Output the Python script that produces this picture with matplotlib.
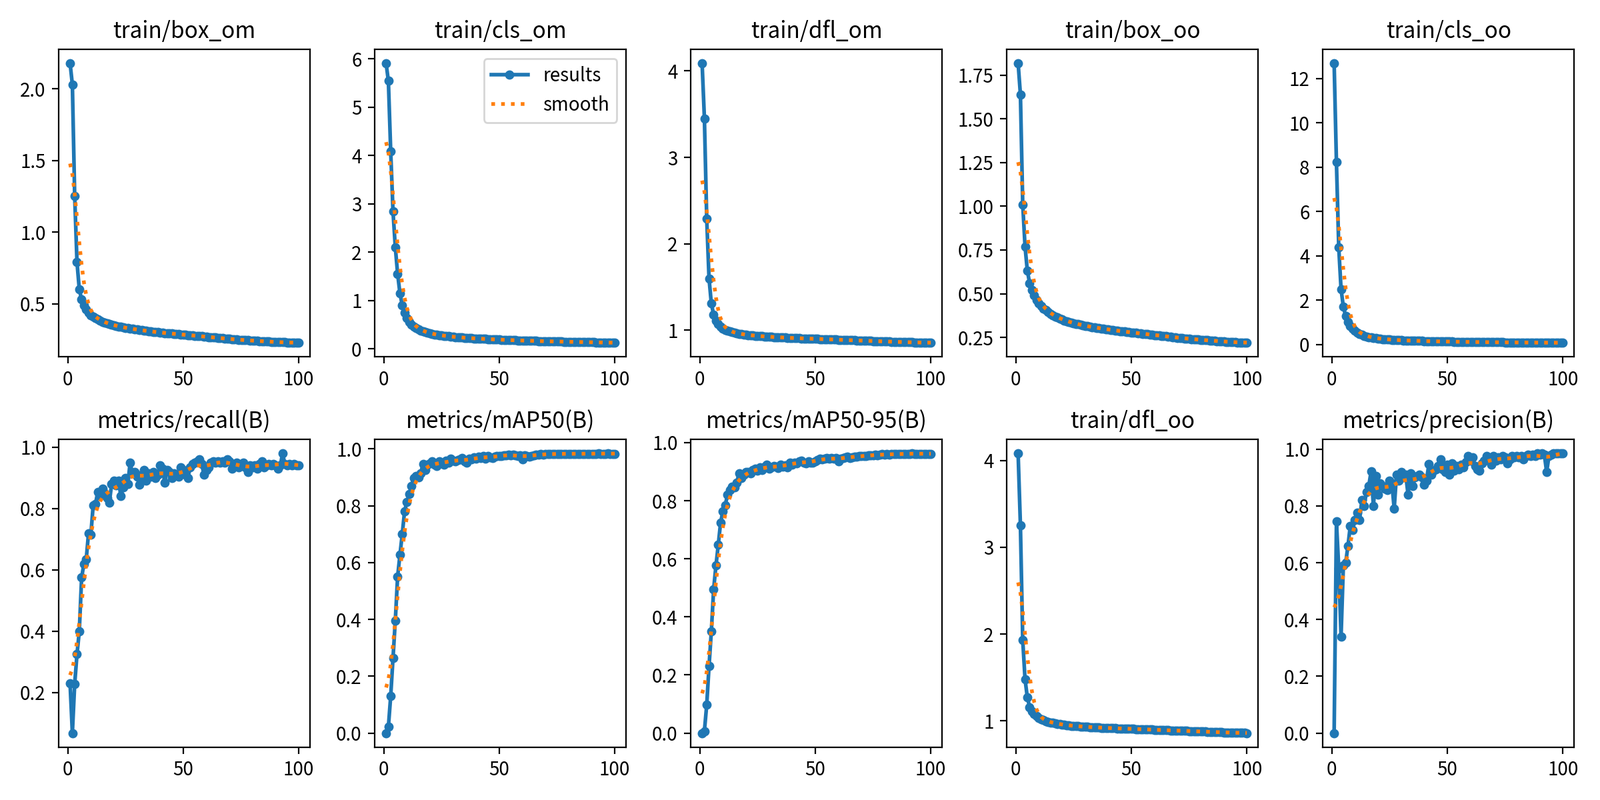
import numpy as np
import matplotlib
matplotlib.use('Agg')
from matplotlib import pyplot as plt
from matplotlib.ticker import MultipleLocator

plt.rcParams['font.family'] = ['Noto Sans CJK SC', 'DejaVu Sans']
plt.rcParams['axes.unicode_minus'] = False

# training log, one value per epoch (1..100)
epochs = np.arange(1, 101)

box_om = [2.18, 2.03, 1.25, 0.79, 0.60, 0.53, 0.49, 0.46, 0.44, 0.42,
          0.41, 0.40, 0.39, 0.38, 0.375, 0.37, 0.365, 0.36, 0.355, 0.35,
          0.345, 0.34, 0.338, 0.335, 0.332, 0.33, 0.327, 0.325, 0.322, 0.32,
          0.318, 0.315, 0.313, 0.311, 0.309, 0.307, 0.305, 0.303, 0.301, 0.30,
          0.298, 0.296, 0.295, 0.293, 0.292, 0.29, 0.289, 0.287, 0.286, 0.285,
          0.283, 0.282, 0.28, 0.279, 0.277, 0.276, 0.274, 0.273, 0.271, 0.27,
          0.268, 0.267, 0.265, 0.264, 0.262, 0.261, 0.259, 0.258, 0.256, 0.255,
          0.253, 0.252, 0.251, 0.249, 0.248, 0.247, 0.246, 0.245, 0.244, 0.243,
          0.242, 0.241, 0.240, 0.239, 0.238, 0.237, 0.236, 0.235, 0.234, 0.233,
          0.232, 0.232, 0.231, 0.231, 0.230, 0.230, 0.229, 0.229, 0.228, 0.228]

cls_om = [5.91, 5.54, 4.08, 2.84, 2.10, 1.55, 1.15, 0.90, 0.75, 0.64,
          0.56, 0.50, 0.46, 0.43, 0.40, 0.38, 0.36, 0.345, 0.33, 0.32,
          0.31, 0.30, 0.29, 0.285, 0.28, 0.27, 0.265, 0.26, 0.255, 0.25,
          0.245, 0.24, 0.237, 0.233, 0.23, 0.227, 0.224, 0.221, 0.218, 0.215,
          0.212, 0.21, 0.207, 0.205, 0.203, 0.20, 0.198, 0.196, 0.194, 0.192,
          0.19, 0.188, 0.186, 0.184, 0.182, 0.18, 0.178, 0.176, 0.175, 0.173,
          0.172, 0.17, 0.168, 0.167, 0.165, 0.164, 0.162, 0.161, 0.16, 0.158,
          0.157, 0.156, 0.155, 0.153, 0.152, 0.151, 0.15, 0.149, 0.148, 0.147,
          0.146, 0.145, 0.144, 0.143, 0.142, 0.141, 0.14, 0.139, 0.138, 0.137,
          0.136, 0.135, 0.134, 0.133, 0.132, 0.131, 0.13, 0.129, 0.128, 0.127]

dfl_om = [4.09, 3.45, 2.29, 1.60, 1.31, 1.18, 1.11, 1.07, 1.04, 1.02,
          1.005, 0.995, 0.985, 0.977, 0.97, 0.965, 0.96, 0.956, 0.952, 0.948,
          0.945, 0.942, 0.939, 0.937, 0.935, 0.933, 0.931, 0.929, 0.927, 0.925,
          0.923, 0.922, 0.92, 0.919, 0.918, 0.916, 0.915, 0.914, 0.912, 0.911,
          0.91, 0.909, 0.908, 0.907, 0.906, 0.905, 0.904, 0.903, 0.902, 0.901,
          0.90, 0.899, 0.898, 0.897, 0.896, 0.895, 0.894, 0.893, 0.892, 0.891,
          0.89, 0.889, 0.888, 0.887, 0.886, 0.885, 0.884, 0.883, 0.882, 0.881,
          0.88, 0.879, 0.878, 0.877, 0.876, 0.875, 0.874, 0.873, 0.872, 0.871,
          0.870, 0.869, 0.868, 0.867, 0.866, 0.866, 0.865, 0.864, 0.863, 0.862,
          0.862, 0.861, 0.86, 0.86, 0.859, 0.858, 0.858, 0.857, 0.856, 0.856]

box_oo = [1.82, 1.64, 1.01, 0.77, 0.63, 0.56, 0.52, 0.49, 0.465, 0.445,
          0.43, 0.415, 0.405, 0.395, 0.385, 0.377, 0.37, 0.363, 0.357, 0.352,
          0.347, 0.343, 0.339, 0.335, 0.331, 0.328, 0.325, 0.322, 0.319, 0.316,
          0.313, 0.311, 0.309, 0.307, 0.305, 0.303, 0.301, 0.299, 0.297, 0.295,
          0.293, 0.291, 0.29, 0.288, 0.286, 0.285, 0.283, 0.281, 0.28, 0.278,
          0.277, 0.275, 0.274, 0.272, 0.271, 0.269, 0.268, 0.266, 0.265, 0.263,
          0.262, 0.26, 0.259, 0.257, 0.256, 0.254, 0.253, 0.251, 0.25, 0.248,
          0.247, 0.246, 0.244, 0.243, 0.242, 0.24, 0.239, 0.238, 0.237, 0.236,
          0.235, 0.234, 0.233, 0.232, 0.231, 0.23, 0.229, 0.228, 0.227, 0.226,
          0.225, 0.224, 0.223, 0.223, 0.222, 0.221, 0.221, 0.22, 0.22, 0.219]

cls_oo = [12.69, 8.22, 4.38, 2.50, 1.70, 1.28, 1.02, 0.85, 0.72, 0.62,
          0.55, 0.49, 0.44, 0.40, 0.37, 0.34, 0.32, 0.30, 0.285, 0.27,
          0.26, 0.25, 0.24, 0.232, 0.225, 0.218, 0.212, 0.206, 0.20, 0.195,
          0.19, 0.186, 0.182, 0.178, 0.174, 0.17, 0.167, 0.164, 0.161, 0.158,
          0.155, 0.152, 0.15, 0.147, 0.145, 0.143, 0.141, 0.139, 0.137, 0.135,
          0.133, 0.131, 0.129, 0.127, 0.126, 0.124, 0.122, 0.121, 0.119, 0.118,
          0.116, 0.115, 0.114, 0.112, 0.111, 0.11, 0.109, 0.107, 0.106, 0.105,
          0.104, 0.103, 0.102, 0.101, 0.1, 0.099, 0.098, 0.097, 0.096, 0.095,
          0.094, 0.093, 0.093, 0.092, 0.091, 0.09, 0.089, 0.089, 0.088, 0.087,
          0.087, 0.086, 0.085, 0.085, 0.084, 0.084, 0.083, 0.083, 0.082, 0.082]

recall = [0.23, 0.068, 0.228, 0.325, 0.40, 0.575, 0.62, 0.635, 0.72, 0.715,
          0.81, 0.815, 0.855, 0.84, 0.865, 0.85, 0.835, 0.82, 0.88, 0.89,
          0.875, 0.89, 0.84, 0.87, 0.90, 0.88, 0.95, 0.915, 0.92, 0.905,
          0.878, 0.91, 0.925, 0.89, 0.915, 0.905, 0.92, 0.90, 0.91, 0.94,
          0.93, 0.885, 0.925, 0.92, 0.90, 0.915, 0.91, 0.905, 0.935, 0.925,
          0.91, 0.90, 0.935, 0.945, 0.95, 0.955, 0.96, 0.945, 0.91, 0.925,
          0.935, 0.95, 0.955, 0.95, 0.955, 0.95, 0.955, 0.95, 0.96, 0.955,
          0.93, 0.945, 0.95, 0.935, 0.94, 0.95, 0.935, 0.92, 0.94, 0.935,
          0.94, 0.93, 0.945, 0.955, 0.935, 0.94, 0.945, 0.94, 0.945, 0.94,
          0.93, 0.94, 0.98, 0.945, 0.94, 0.945, 0.94, 0.945, 0.94, 0.94]

map50 = [0.0, 0.022, 0.13, 0.264, 0.396, 0.551, 0.627, 0.70, 0.78, 0.814,
         0.84, 0.87, 0.897, 0.905, 0.90, 0.915, 0.947, 0.925, 0.945, 0.95,
         0.955, 0.945, 0.94, 0.955, 0.95, 0.945, 0.958, 0.952, 0.965, 0.958,
         0.955, 0.96, 0.962, 0.968, 0.955, 0.952, 0.965, 0.962, 0.97, 0.965,
         0.972, 0.968, 0.975, 0.965, 0.974, 0.97, 0.968, 0.972, 0.975, 0.974,
         0.976, 0.978, 0.978, 0.98, 0.977, 0.979, 0.978, 0.976, 0.977, 0.962,
         0.978, 0.975, 0.972, 0.976, 0.978, 0.979, 0.98, 0.981, 0.98, 0.981,
         0.982, 0.982, 0.981, 0.982, 0.982, 0.983, 0.982, 0.983, 0.982, 0.983,
         0.983, 0.982, 0.983, 0.983, 0.982, 0.983, 0.983, 0.983, 0.982, 0.983,
         0.983, 0.983, 0.984, 0.983, 0.983, 0.983, 0.984, 0.983, 0.983, 0.983]

map50_95 = [0.0, 0.007, 0.097, 0.23, 0.35, 0.496, 0.577, 0.648, 0.724, 0.764,
            0.785, 0.82, 0.838, 0.848, 0.845, 0.862, 0.895, 0.878, 0.89, 0.898,
            0.90, 0.895, 0.905, 0.91, 0.903, 0.915, 0.905, 0.918, 0.925, 0.91,
            0.915, 0.92, 0.918, 0.912, 0.925, 0.918, 0.922, 0.915, 0.932, 0.925,
            0.93, 0.928, 0.935, 0.938, 0.932, 0.928, 0.935, 0.93, 0.932, 0.935,
            0.94, 0.945, 0.942, 0.945, 0.948, 0.944, 0.946, 0.945, 0.948, 0.935,
            0.945, 0.948, 0.95, 0.952, 0.948, 0.95, 0.952, 0.951, 0.954, 0.953,
            0.955, 0.954, 0.956, 0.956, 0.957, 0.958, 0.957, 0.959, 0.96, 0.959,
            0.96, 0.959, 0.96, 0.961, 0.96, 0.961, 0.96, 0.961, 0.962, 0.961,
            0.962, 0.963, 0.962, 0.961, 0.962, 0.962, 0.961, 0.962, 0.962, 0.962]

dfl_oo = [4.08, 3.25, 1.93, 1.48, 1.27, 1.16, 1.11, 1.08, 1.055, 1.035,
          1.02, 1.008, 0.998, 0.99, 0.983, 0.977, 0.972, 0.967, 0.963, 0.959,
          0.955, 0.952, 0.949, 0.946, 0.943, 0.941, 0.939, 0.937, 0.935, 0.933,
          0.931, 0.93, 0.928, 0.927, 0.925, 0.924, 0.923, 0.921, 0.92, 0.919,
          0.918, 0.917, 0.916, 0.915, 0.914, 0.913, 0.912, 0.911, 0.91, 0.909,
          0.908, 0.907, 0.906, 0.905, 0.904, 0.903, 0.902, 0.901, 0.90, 0.899,
          0.898, 0.897, 0.896, 0.895, 0.894, 0.893, 0.892, 0.891, 0.89, 0.889,
          0.888, 0.887, 0.886, 0.885, 0.884, 0.883, 0.882, 0.881, 0.88, 0.879,
          0.878, 0.877, 0.876, 0.875, 0.874, 0.873, 0.872, 0.871, 0.87, 0.869,
          0.868, 0.867, 0.866, 0.865, 0.865, 0.864, 0.863, 0.862, 0.862, 0.861]

precision = [0.0, 0.745, 0.58, 0.34, 0.59, 0.60, 0.66, 0.73, 0.715, 0.75,
             0.777, 0.75, 0.82, 0.80, 0.85, 0.87, 0.922, 0.80, 0.905, 0.84,
             0.88, 0.87, 0.86, 0.855, 0.89, 0.88, 0.79, 0.91, 0.89, 0.92,
             0.90, 0.91, 0.84, 0.915, 0.87, 0.90, 0.905, 0.91, 0.90, 0.875,
             0.89, 0.947, 0.91, 0.925, 0.93, 0.94, 0.965, 0.93, 0.92, 0.945,
             0.91, 0.95, 0.925, 0.94, 0.93, 0.945, 0.935, 0.955, 0.975, 0.96,
             0.97, 0.94, 0.93, 0.925, 0.95, 0.96, 0.975, 0.96, 0.945, 0.975,
             0.96, 0.97, 0.965, 0.975, 0.97, 0.95, 0.965, 0.975, 0.97, 0.975,
             0.97, 0.975, 0.965, 0.975, 0.98, 0.975, 0.98, 0.975, 0.985, 0.98,
             0.985, 0.98, 0.92, 0.975, 0.98, 0.985, 0.985, 0.985, 0.985, 0.985]

titles = ['train/box_om', 'train/cls_om', 'train/dfl_om', 'train/box_oo', 'train/cls_oo',
          'metrics/recall(B)', 'metrics/mAP50(B)', 'metrics/mAP50-95(B)', 'train/dfl_oo',
          'metrics/precision(B)']
series = [box_om, cls_om, dfl_om, box_oo, cls_oo,
          recall, map50, map50_95, dfl_oo, precision]


def gauss_smooth(y, sigma=3.0):
    # same as scipy gaussian_filter1d (mode='reflect', truncate=4)
    r = int(4.0 * sigma + 0.5)
    k = np.exp(-0.5 * (np.arange(-r, r + 1) / sigma) ** 2)
    k = k / k.sum()
    yp = np.pad(np.asarray(y, dtype=float), r, mode='symmetric')
    return np.convolve(yp, k, mode='valid')


fig, ax = plt.subplots(2, 5, figsize=(12, 6), tight_layout=True)
ax = ax.ravel()
for i, (t, y) in enumerate(zip(titles, series)):
    ax[i].plot(epochs, y, marker='.', label='results', linewidth=2, markersize=8)
    ax[i].plot(epochs, gauss_smooth(y), ':', label='smooth', linewidth=2)
    ax[i].set_title(t, fontsize=12)
ax[1].legend()

# dfl panels use whole-number ticks in the original
ax[2].yaxis.set_major_locator(MultipleLocator(1))
ax[8].yaxis.set_major_locator(MultipleLocator(1))

fig.savefig('out.png', dpi=200)
